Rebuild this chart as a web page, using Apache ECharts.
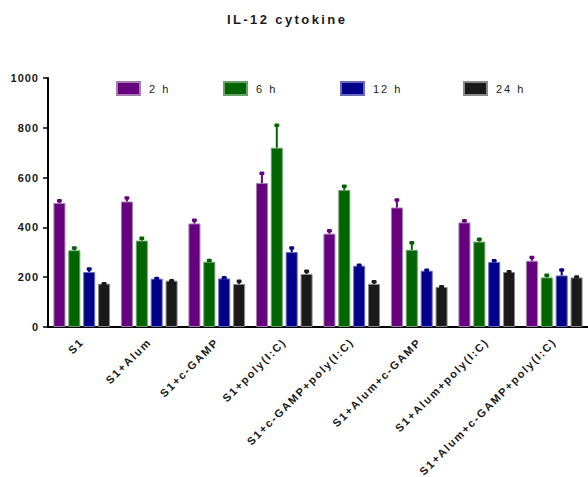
<!DOCTYPE html>
<html>
<head>
<meta charset="utf-8">
<script src="https://cdn.jsdelivr.net/npm/echarts@6/dist/echarts.min.js"></script>
<style>
  html, body { margin: 0; padding: 0; background: #fff; }
  #chart { width: 588px; height: 477px; }
</style>
</head>
<body>
<div id="chart"></div>
<script>
// IL-12 levels per formulation, four time points (mean and upper SEM)
const categories = ['S1', 'S1+Alum', 'S1+c-GAMP', 'S1+poly(I:C)', 'S1+c-GAMP+poly(I:C)',
  'S1+Alum+c-GAMP', 'S1+Alum+poly(I:C)', 'S1+Alum+c-GAMP+poly(I:C)'];
const timeLabels = ['2 h', '6 h', '12 h', '24 h'];
const mean2h = [498, 504, 416, 578, 375, 480, 420, 266];
const sem2h = [10, 15, 14, 40, 13, 31, 8, 14];
const mean6h = [308, 347, 262, 720, 550, 310, 343, 199];
const sem6h = [10, 10, 6, 91, 16, 29, 10, 10];
const mean12h = [221, 194, 195, 301, 246, 226, 261, 207];
const sem12h = [13, 2, 4, 17, 3, 3, 6, 23];
const mean24h = [174, 186, 173, 213, 173, 161, 221, 199];
const sem24h = [1, 1, 12, 12, 10, 2, 2, 3];
const yTicks = { min: 0, max: 1000, interval: 200 };

const means = [mean2h, mean6h, mean12h, mean24h];
const sems = [sem2h, sem6h, sem12h, sem24h];
const colors = ['#66007f', '#006400', '#00008b', '#1a1a1a'];
const edges = ['#a27fb0', '#6aa06a', '#6a6ab8', '#8a8a8a'];
const legendLeft = [116, 223, 340, 463];

const FONT = '"Liberation Sans", Arial, sans-serif';
const BAR_W = 12;
const BAR_STEP = 14.9;

const chart = echarts.init(document.getElementById('chart'), null, { renderer: 'svg' });

const series = [];
timeLabels.forEach((t, k) => {
  series.push({
    name: t,
    type: 'bar',
    barWidth: BAR_W,
    barGap: '24%',
    data: means[k],
    itemStyle: { color: colors[k], borderColor: edges[k], borderWidth: 1 },
    z: 2
  });
});
timeLabels.forEach((t, k) => {
  const offset = (k - 1.5) * BAR_STEP;
  series.push({
    name: 'sem ' + t,
    type: 'custom',
    z: 3,
    data: means[k].map((m, i) => [i, m, sems[k][i]]),
    renderItem: function (params, api) {
      const base = api.coord([api.value(0), api.value(1)]);
      const top = api.coord([api.value(0), api.value(1) + api.value(2)]);
      const x = base[0] + offset;
      return {
        type: 'group',
        children: [
          { type: 'line', shape: { x1: x, y1: base[1], x2: x, y2: top[1] },
            style: { stroke: colors[k], lineWidth: 2 } },
          { type: 'rect', shape: { x: x - 2.5, y: top[1] - 1.5, width: 5, height: 3.5, r: 1.2 },
            style: { fill: colors[k] } }
        ]
      };
    }
  });
});

chart.setOption({
  animation: false,
  backgroundColor: '#fff',
  textStyle: { fontFamily: FONT },
  title: {
    text: 'IL-12 cytokine',
    left: 227, top: 13, padding: 0,
    textStyle: { fontFamily: FONT, fontSize: 13, fontWeight: 'bold', color: '#1a1a1a' }
  },
  legend: timeLabels.map((t, k) => ({
    data: [t],
    left: legendLeft[k], top: 81, padding: 0,
    icon: 'rect',
    itemWidth: 23, itemHeight: 13,
    selectedMode: false,
    textStyle: { fontFamily: FONT, fontSize: 11, color: '#1a1a1a', padding: [0, 0, 0, 4] }
  })),
  grid: { left: 48, right: -6, top: 78, bottom: 150, containLabel: false },
  xAxis: {
    type: 'category',
    data: categories,
    axisLine: { lineStyle: { color: '#000', width: 2 } },
    axisTick: { alignWithLabel: true, length: 5, lineStyle: { color: '#000', width: 1.5 } },
    axisLabel: {
      rotate: 45, margin: 13, interval: 0,
      fontFamily: FONT, fontSize: 11, fontWeight: 'bold', color: '#1a1a1a'
    }
  },
  yAxis: {
    type: 'value',
    min: yTicks.min, max: yTicks.max, interval: yTicks.interval,
    axisLine: { show: true, lineStyle: { color: '#000', width: 2 } },
    axisTick: { show: true, length: 5, lineStyle: { color: '#000', width: 1.5 } },
    splitLine: { show: false },
    axisLabel: {
      margin: 9, fontFamily: FONT, fontSize: 11, fontWeight: 'bold', color: '#1a1a1a',
      formatter: v => String(v)
    }
  },
  series: series
});

// widen the tracking of the drawn texts
function applySpacing() {
  document.querySelectorAll('#chart svg text').forEach(el => {
    const s = el.textContent;
    let sp = '1.7px';
    if (s === 'IL-12 cytokine') sp = '2.4px';
    else if (timeLabels.indexOf(s) >= 0) sp = '2px';
    else if (/^\d+$/.test(s)) sp = '1px';
    el.style.letterSpacing = sp;
  });
}
chart.on('finished', applySpacing);
applySpacing();
</script>
</body>
</html>
